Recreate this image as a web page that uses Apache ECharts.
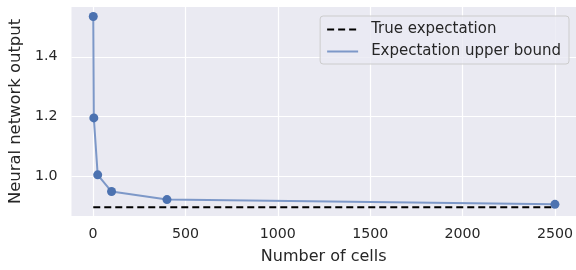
<!DOCTYPE html>
<html><head><meta charset="utf-8">
<script src="https://cdn.jsdelivr.net/npm/echarts@6/dist/echarts.min.js"></script>
<style>html,body{margin:0;padding:0;background:#fff}#c{width:576px;height:270px}</style>
</head><body><div id="c"></div>
<script>
const cells = [1, 4, 25, 100, 400, 2500];
const upperBound = [1.535, 1.195, 1.004, 0.948, 0.921, 0.905];
const trueExpectation = [0.895, 0.895];
const trueX = [1, 2500];
const xTicks = [0, 500, 1000, 1500, 2000, 2500];
const yTicks = [1.0, 1.2, 1.4];

const chart = echarts.init(document.getElementById('c'));
const txt = '#262626';
const font = 'DejaVu Sans';
chart.setOption({
  animation: false,
  backgroundColor: '#ffffff',
  grid: {left: 71, right: 0, top: 7, bottom: 50, backgroundColor: '#eaeaf2', show: true, borderWidth: 0},
  xAxis: {
    type: 'value', min: -117, max: 2614,
    name: 'Number of cells', nameLocation: 'middle', nameGap: 33,
    nameTextStyle: {color: txt, fontSize: 16, fontFamily: font},
    axisLine: {show: false}, axisTick: {show: false, customValues: xTicks},
    axisLabel: {customValues: xTicks, color: txt, fontSize: 14.2, fontFamily: font, margin: 11,
      formatter: v => String(v)},
    splitLine: {show: true, lineStyle: {color: '#ffffff', width: 1.2}}
  },
  yAxis: {
    type: 'value', min: 0.866, max: 1.567,
    name: 'Neural network output', nameLocation: 'middle', nameGap: 46, nameRotate: 90,
    nameTextStyle: {color: txt, fontSize: 16.4, fontFamily: font},
    axisLine: {show: false}, axisTick: {show: false, customValues: yTicks},
    axisLabel: {customValues: yTicks, color: txt, fontSize: 14.2, fontFamily: font, margin: 14,
      formatter: v => v.toFixed(1)},
    splitLine: {show: true, lineStyle: {color: '#ffffff', width: 1.2}}
  },
  legend: {
    orient: 'vertical', right: 7, top: 16, itemWidth: 31, itemHeight: 10, itemGap: 7,
    padding: [6, 8, 5, 6],
    backgroundColor: 'rgba(234,234,242,0.8)', borderColor: '#cccccc', borderWidth: 1, borderRadius: 3,
    itemStyle: {opacity: 0},
    textStyle: {color: txt, fontSize: 15, fontFamily: font, padding: [0, 0, 0, 8]},
    data: ['True expectation', 'Expectation upper bound']
  },
  series: [
    {name: 'True expectation', type: 'line', symbol: 'none', z: 3,
      data: trueX.map((x, i) => [x, trueExpectation[i]]),
      lineStyle: {color: '#000000', width: 2, type: [7, 4]}, itemStyle: {color: '#000000'}},
    {name: 'Expectation upper bound', type: 'line', symbol: 'none', z: 2,
      data: cells.map((x, i) => [x, upperBound[i]]),
      lineStyle: {color: '#7d98c8', width: 2}, itemStyle: {color: '#7d98c8'}},
    {name: 'markers', type: 'scatter', symbol: 'circle', symbolSize: 9, z: 4,
      data: cells.map((x, i) => [x, upperBound[i]]),
      itemStyle: {color: '#4c72b0', opacity: 1}}
  ]
});
</script></body></html>
